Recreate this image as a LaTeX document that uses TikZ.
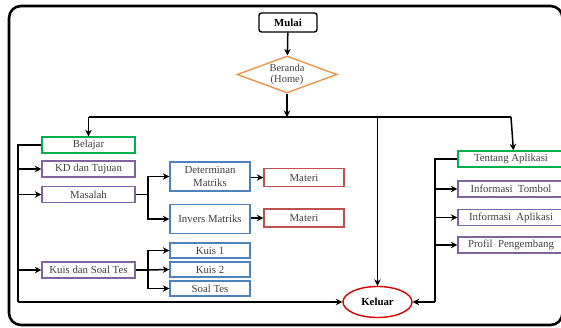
\documentclass[tikz,border=0pt]{standalone}
\usepackage{fontspec}
\setmainfont{Liberation Serif}
\usetikzlibrary{shapes.geometric,arrows.meta}
\definecolor{cgreen}{RGB}{0,176,80}
\definecolor{cpurple}{RGB}{128,100,162}
\definecolor{cblue}{RGB}{79,129,189}
\definecolor{cred}{RGB}{192,80,77}
\definecolor{corange}{RGB}{235,150,75}
\definecolor{ctext}{RGB}{64,64,64}
\begin{document}
\begin{tikzpicture}[x=1pt,y=-1pt,
  every node/.style={font=\fontsize{10.8}{11.5}\selectfont, text=ctext, inner sep=0pt, line width=1.4pt},
  box/.style={draw, rectangle, minimum width=93pt, minimum height=16pt},
  gbox/.style={box, draw=cgreen},
  pbox/.style={box, draw=cpurple},
  bbox/.style={box, draw=cblue, minimum width=80pt},
  rbox/.style={box, draw=cred, minimum width=80pt, minimum height=18pt},
  ibox/.style={box, draw=cpurple, minimum width=112pt},
  conn/.style={draw=black, line width=1.5pt, -{Stealth[length=6.5pt,width=6.5pt]}},
  line/.style={draw=black, line width=1.5pt}
]
\useasboundingbox (0,0) rectangle (561,328);
\fill[white] (0,0) rectangle (561,328);
\draw[line width=2.6pt, rounded corners=12pt] (9,6) rectangle (562.5,325);

\node[draw=black, rounded corners=2.5pt, minimum width=58pt, minimum height=19pt, font=\fontsize{10.8}{11.5}\selectfont\bfseries, text=black] (mulai) at (288,22.5) {Mulai};
\node[draw=corange, diamond, aspect=2.7, minimum width=100pt, minimum height=37pt, align=center, font=\fontsize{10.5}{11}\selectfont] (beranda) at (287,74.5) {Beranda\\(Home)};

\coordinate (bus) at (287,117);
\coordinate (busL) at (88.5,117);
\coordinate (busK) at (377.5,117);
\coordinate (busR) at (511,117);

\node[gbox] (belajar) at (88.5,145) {Belajar};
\node[pbox] (kd) at (88.5,169) {KD dan Tujuan};
\node[pbox] (masalah) at (88.5,194.5) {Masalah};
\node[pbox] (kuis) at (88.5,270) {Kuis dan Soal Tes};

\node[bbox, minimum height=29pt, align=center, font=\fontsize{10.8}{12.5}\selectfont] (det) at (210,176.5) {Determinan\\Matriks};
\node[bbox, minimum height=29pt] (inv) at (210,219) {Invers Matriks};
\node[rbox] (mat1) at (304,177.5) {Materi};
\node[rbox] (mat2) at (304,218) {Materi};

\node[bbox, minimum height=15pt] (k1) at (210,250.5) {Kuis 1};
\node[bbox, minimum height=15pt] (k2) at (210,269.5) {Kuis 2};
\node[bbox, minimum height=15pt] (st) at (210,288.5) {Soal Tes};

\node[draw=red!85!black, ellipse, minimum width=69pt, minimum height=31pt, font=\fontsize{10.8}{11.5}\selectfont\bfseries, text=black] (keluar) at (377.5,302) {Keluar};

\node[ibox, draw=cgreen, fill=white] (tentang) at (514,159) {\hspace*{-6pt}Tentang Aplikasi};
\node[ibox, fill=white] (it) at (514,189) {\hspace*{-6pt}Informasi\ \ Tombol};
\node[ibox, fill=white] (ia) at (514,217.5) {\hspace*{-6pt}Informasi\ \ Aplikasi};
\node[ibox, fill=white] (pp) at (514,245) {\hspace*{-6pt}Profil\ \ Pengembang};

% top flow
\draw[conn] (mulai) -- (beranda);
\draw[conn] (beranda) -- (bus);
\draw[line] (busL) -- (busR);
\draw[conn] (busL) -- (belajar);
\draw[conn] (busK) -- (keluar);
\draw[conn] (busR) -- (tentang);

% left bus
\coordinate (lb) at (18,145);
\coordinate (lbb) at (18,302);
\draw[line] (belajar.west) -- (lb) -- (lbb);
\draw[conn] (lbb) -- (keluar.west);
\draw[conn] (18,169) -- (kd.west);
\draw[conn] (18,194.5) -- (masalah.west);
\draw[conn] (18,270) -- (kuis.west);

% masalah branch
\coordinate (mb) at (148,194.5);
\draw[line] (masalah.east) -- (mb);
\draw[conn] (mb) |- (det.west);
\draw[conn] (mb) |- (inv.west);
\draw[conn] (det.east |- mat1) -- (mat1.west);
\draw[conn] (inv.east |- mat2) -- (mat2.west);

% kuis branch
\coordinate (kb) at (148,270);
\draw[line] (kuis.east) -- (kb);
\draw[conn] (kb) |- (k1.west);
\draw[conn] (kb) -- (k2.west);
\draw[conn] (kb) |- (st.west);

% right bus
\coordinate (rb) at (435,159);
\coordinate (rbb) at (435,302);
\draw[line] (tentang.west) -- (rb) -- (rbb);
\draw[conn] (rbb) -- (keluar.east);
\draw[conn] (435,189) -- (it.west);
\draw[conn] (435,217.5) -- (ia.west);
\draw[conn] (435,245) -- (pp.west);
\end{tikzpicture}
\end{document}
